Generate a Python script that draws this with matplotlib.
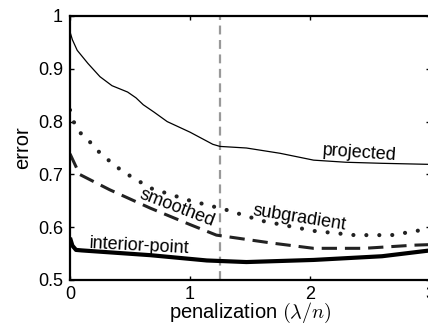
import numpy as np
import matplotlib
matplotlib.use('Agg')
import matplotlib.pyplot as plt

plt.rcParams['font.family'] = ['Liberation Sans', 'DejaVu Sans']
plt.rcParams['mathtext.fontset'] = 'cm'

# data
proj_x = [0, 0.02, 0.06, 0.15, 0.25, 0.35, 0.48, 0.55, 0.61, 0.7, 0.81, 1.0, 1.19, 1.25, 1.47, 1.75, 2.03, 2.3, 2.6, 3.0]
proj_y = [0.97, 0.955, 0.935, 0.91, 0.885, 0.868, 0.856, 0.845, 0.832, 0.818, 0.8, 0.78, 0.757, 0.753, 0.75, 0.74, 0.727, 0.723, 0.721, 0.719]

sub_x = [0, 0.03, 0.08, 0.16, 0.23, 0.31, 0.39, 0.48, 0.67, 0.99, 1.3, 1.6, 2.03, 2.37, 2.68, 2.89, 3.0]
sub_y = [0.822, 0.8, 0.78, 0.763, 0.745, 0.729, 0.714, 0.70, 0.674, 0.651, 0.633, 0.612, 0.593, 0.585, 0.585, 0.593, 0.598]

smo_x = [0, 0.08, 0.33, 0.67, 1.0, 1.22, 1.68, 2.03, 2.45, 2.87, 3.0]
smo_y = [0.739, 0.70, 0.671, 0.636, 0.605, 0.585, 0.57, 0.56, 0.56, 0.566, 0.567]

ip_x = [0, 0.02, 0.05, 0.1, 0.67, 1.14, 1.47, 2.03, 2.6, 3.0]
ip_y = [0.58, 0.565, 0.557, 0.556, 0.547, 0.537, 0.534, 0.538, 0.545, 0.556]

lam_star = 1.25

fig = plt.figure(figsize=(4.28, 3.26), dpi=100)
ax = fig.add_axes([70/428, 1 - 280/326, 360/428, 264/326])

ax.axvline(lam_star, color='#999999', lw=1.6, linestyle=(0, (4, 2.5)))
ax.plot(proj_x, proj_y, color='k', lw=0.9)
ax.plot(sub_x, sub_y, color='#222222', lw=3, linestyle=(0, (0.01, 3.1)), dash_capstyle='round')
ax.plot(smo_x, smo_y, color='#222222', lw=2.2, linestyle=(0, (5, 2.6)))
ax.plot(ip_x, ip_y, color='k', lw=3, solid_capstyle='butt')

ax.set_xlim(0, 3)
ax.set_ylim(0.5, 1)
ax.set_xticks([0, 1, 2, 3])
ax.set_xticklabels(['0', '1', '2', '3'])
ax.set_yticks([0.5, 0.6, 0.7, 0.8, 0.9, 1])
ax.set_yticklabels(['0.5', '0.6', '0.7', '0.8', '0.9', '1'])
ax.tick_params(direction='in', length=3, width=1, top=True, right=True, labelsize=13)
ax.tick_params(axis='x', pad=4)
ax.tick_params(axis='y', pad=5)
for s in ax.spines.values():
    s.set_linewidth(1.6)

ax.set_xlabel(r'penalization $(\lambda/n)$', fontsize=14.5, labelpad=-1)
ax.set_ylabel('error', fontsize=14.5, labelpad=4)

ax.text(2.41, 0.740, 'projected', fontsize=13, rotation=-4, ha='center', va='center')
ax.text(1.91, 0.617, 'subgradient', fontsize=13, rotation=-9, ha='center', va='center')
ax.text(0.89, 0.637, 'smoothed', fontsize=13, rotation=-21, ha='center', va='center')
ax.text(0.58, 0.565, 'interior-point', fontsize=13, rotation=-3, ha='center', va='center')

fig.savefig('out.png', dpi=100)
